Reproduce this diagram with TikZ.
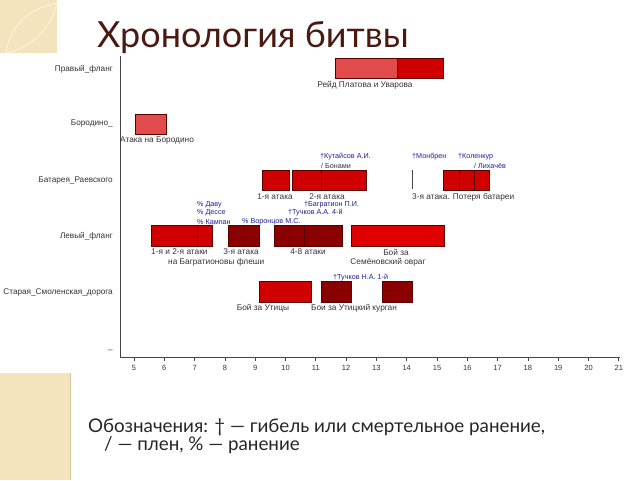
\documentclass[tikz,border=0pt]{standalone}
\usepackage{fontspec}
\setmainfont{Liberation Sans}
\newfontfamily\ttlfont{Lato}
\definecolor{brt}{HTML}{D00000}
\definecolor{brt2}{HTML}{E00000}
\definecolor{lgt}{HTML}{E24B4B}
\definecolor{drk}{HTML}{8A0000}
\definecolor{edgecol}{HTML}{5A0000}
\definecolor{bluecol}{HTML}{1E1E9A}
\definecolor{txtcol}{HTML}{333333}
\definecolor{axiscol}{HTML}{444444}
\definecolor{ttlcol}{HTML}{4A1A12}
\definecolor{beige}{HTML}{F3E4BE}
\definecolor{beigeedge}{HTML}{D9C79B}
\tikzset{
  seg/.style={draw=edgecol, line width=0.5pt, inner sep=0pt, outer sep=0pt, minimum height=20.5pt, anchor=west},
  lab/.style={font=\fontsize{8.3}{9.5}\selectfont, text=txtcol, inner sep=0pt},
  who/.style={font=\fontsize{7.2}{8}\selectfont, text=bluecol, inner sep=0pt, anchor=west},
  rowlab/.style={font=\fontsize{8.2}{10}\selectfont, text=txtcol, anchor=east, inner sep=0pt},
  ticklab/.style={font=\fontsize{7.5}{8}\selectfont, text=txtcol, inner sep=0pt},
  axisline/.style={draw=axiscol, line width=0.7pt},
  legend/.style={font=\ttlfont\fontsize{18.8}{16}\selectfont, text=black!85, anchor=west, inner sep=0pt, align=left},
}
\newcommand\seg[5]{\pgfmathsetmacro\segw{#3-#2}\node[seg, fill=#5, minimum width=\segw pt] (#1) at (#2,#4) {};}
\begin{document}
\begin{tikzpicture}[x=1pt, y=-1pt]
\useasboundingbox (0,0) rectangle (640,480);
% decorations
\fill[beige] (0,0) rectangle (57,53);
\draw[white!60!beige, line width=0.8pt] (6,53) .. controls (10,25) and (30,8) .. (57,3);
\draw[white!60!beige, line width=0.8pt] (6,53) .. controls (35,47) and (52,25) .. (57,3);
\fill[beige] (0,373) rectangle (70,480);
\draw[beigeedge, line width=1pt] (70,373) -- (70,480);
% title
\node[font=\ttlfont\fontsize{36}{40}\selectfont, text=ttlcol, anchor=west, inner sep=0pt] (title) at (97,38) {Хронология битвы};
% axes
\coordinate (axtop) at (120,56);
\coordinate (axorig) at (120,357);
\coordinate (axend) at (620,357);
\draw[axisline] (axtop) -- (axorig) -- (axend);
\foreach \t in {5,...,21} {
  \pgfmathsetmacro\xx{134+(\t-5)*30.3}
  \coordinate (tka\t) at (\xx,357);
  \coordinate (tkb\t) at (\xx,361);
  \draw[axisline] (tka\t) -- (tkb\t);
  \node[ticklab] (tk\t) at (\xx,368) {\t};
}
% row labels
\node[rowlab] (r1) at (113,69) {Правый\_фланг};
\node[rowlab] (r2) at (113,124) {Бородино\_};
\node[rowlab] (r3) at (113,181) {Батарея\_Раевского};
\node[rowlab] (r4) at (113,236) {Левый\_фланг};
\node[rowlab] (r5) at (113,292) {Старая\_Смоленская\_дорога};
\node[rowlab] (r6) at (113,351) {–};
% row 1
\seg{a1}{335}{397}{68}{lgt}
\seg{a2}{397}{443}{68}{brt}
\node[lab] (la1) at (365,85) {Рейд Платова и Уварова};
% row 2
\seg{b1}{135}{166}{124}{lgt}
\node[lab, anchor=west] (lb1) at (120,141) {Атака на Бородино};
% row 3
\seg{c1}{262}{289}{180}{brt}
\seg{c2}{292}{321}{180}{brt}
\seg{c3}{321}{366}{180}{brt}
\coordinate (m1) at (412,170);
\coordinate (m2) at (412,189);
\draw[axiscol, line width=0.6pt] (m1) -- (m2);
\seg{c4}{443}{459}{180}{brt}
\seg{c5}{459}{474}{180}{brt}
\seg{c6}{474}{489}{180}{brt}
\node[lab] (lc1) at (275,197) {1-я атака};
\node[lab] (lc2) at (327,197) {2-я атака};
\node[lab, anchor=west] (lc3) at (412,197) {3-я атака. Потеря батареи};
\node[who] (wc1) at (320,157) {†Кутайсов А.И.};
\node[who, text=txtcol!70!bluecol] (wc2) at (321,166) {/ Бонами};
\node[who] (wc3) at (412,157) {†Монбрен};
\node[who] (wc4) at (458,157) {†Коленкур};
\node[who] (wc5) at (474,166) {/ Лихачёв};
% row 4
\seg{d1}{151}{197}{235.5}{brt}
\seg{d2}{197}{212}{235.5}{brt}
\seg{d3}{228}{243}{235.5}{drk}
\seg{d4}{243}{259}{235.5}{drk}
\seg{d5}{274}{289}{235.5}{drk}
\seg{d6}{289}{304}{235.5}{drk}
\seg{d7}{304}{342}{235.5}{drk}
\seg{d8}{351}{444}{235.5}{brt2}
\node[lab, anchor=west] (ld1) at (151,252) {1-я и 2-я атаки};
\node[lab, anchor=west] (ld2) at (168,262) {на Багратионовы флеши};
\node[lab] (ld3) at (241,252) {3-я атака};
\node[lab] (ld4) at (308,252) {4-8 атаки};
\node[lab] (ld5) at (396,252) {Бой за};
\node[lab] (ld6) at (388,262) {Семёновский овраг};
\node[who] (wd1) at (197,205) {\% Даву};
\node[who] (wd2) at (197,213) {\% Дессе};
\node[who] (wd3) at (197,222) {\% Кампан};
\node[who] (wd4) at (242,222) {\% Воронцов М.С.};
\node[who] (wd5) at (288,213) {†Тучков А.А. 4-й};
\node[who] (wd6) at (304,205) {†Багратион П.И.};
% row 5
\seg{e1}{259}{311}{291.5}{brt}
\seg{e2}{321}{335}{291.5}{drk}
\seg{e3}{335}{351}{291.5}{drk}
\seg{e4}{382}{412}{291.5}{drk}
\node[lab] (le1) at (263,308) {Бой за Утицы};
\node[lab] (le2) at (354,308) {Бои за Утицкий курган};
\node[who] (we1) at (333,278) {†Тучков Н.А. 1-й};
% legend
\node[legend] (leg) at (88,436) {Обозначения: † — гибель или смертельное ранение,\\\hspace*{16pt}/ — плен, \% — ранение};
\end{tikzpicture}
\end{document}
